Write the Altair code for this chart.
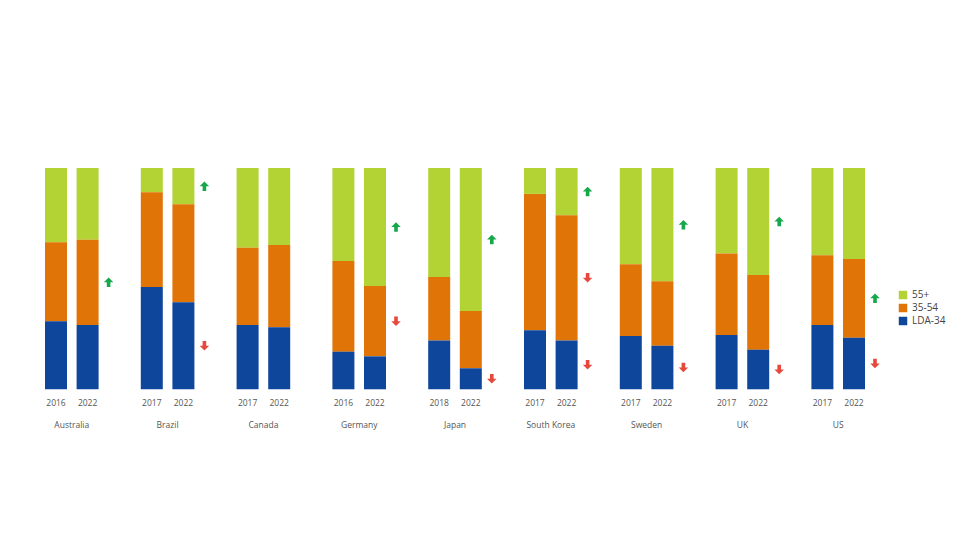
import altair as alt
import pandas as pd

countries = ["Australia", "Brazil", "Canada", "Germany", "Japan",
             "South Korea", "Sweden", "UK", "US"]
first_years = ["2016", "2017", "2017", "2016", "2018", "2017", "2017", "2017", "2017"]
last_year = "2022"
segments = ["55+", "35-54", "LDA-34"]
seg_colors = ["#b3d233", "#e17406", "#0e469c"]

# shares (%) for the first survey year
s55_first = [33.5, 11.0, 36.0, 42.0, 49.2, 11.7, 43.5, 38.6, 39.4]
s35_first = [35.8, 42.8, 34.9, 41.0, 28.8, 61.6, 32.4, 36.9, 31.5]
slda_first = [30.7, 46.2, 29.1, 17.0, 22.0, 26.7, 24.1, 24.5, 29.1]
# shares (%) for 2022
s55_last = [32.4, 16.4, 34.8, 53.3, 64.6, 21.3, 51.2, 48.3, 41.1]
s35_last = [38.5, 44.3, 37.2, 31.8, 25.9, 56.6, 29.1, 33.8, 35.6]
slda_last = [29.1, 39.3, 28.0, 14.9, 9.5, 22.1, 19.7, 17.9, 23.3]

# change arrows drawn next to the 2022 bar
arrow_country = ["Australia", "Brazil", "Brazil", "Germany", "Germany",
                 "Japan", "Japan", "South Korea", "South Korea", "South Korea",
                 "Sweden", "Sweden", "UK", "UK", "US", "US"]
arrow_segment = ["35-54", "55+", "LDA-34", "55+", "35-54",
                 "55+", "LDA-34", "55+", "35-54", "LDA-34",
                 "55+", "LDA-34", "55+", "LDA-34", "35-54", "LDA-34"]
arrow_dir = ["up", "up", "down", "up", "down",
             "up", "down", "up", "down", "down",
             "up", "down", "up", "down", "up", "down"]

order_of = {"LDA-34": 0, "35-54": 1, "55+": 2}

rows = []
for i, c in enumerate(countries):
    for yr, vals in ((first_years[i], (s55_first[i], s35_first[i], slda_first[i])),
                     (last_year, (s55_last[i], s35_last[i], slda_last[i]))):
        for seg, v in zip(segments, vals):
            rows.append({"kind": "bar", "country": c, "year": yr, "segment": seg,
                         "value": v, "ord": order_of[seg], "dir": ""})

for c, seg, d in zip(arrow_country, arrow_segment, arrow_dir):
    i = countries.index(c)
    lda, s35, s55 = slda_last[i], s35_last[i], s55_last[i]
    lo = {"LDA-34": 0, "35-54": lda, "55+": lda + s35}[seg]
    hi = {"LDA-34": lda, "35-54": lda + s35, "55+": 100}[seg]
    rows.append({"kind": "arrow", "country": c, "year": last_year, "segment": seg,
                 "value": (lo + hi) / 2, "ord": order_of[seg], "dir": d})

df = pd.DataFrame(rows)

up_path = "M0,-1L1,0L0.38,0L0.38,1L-0.38,1L-0.38,0L-1,0Z"
down_path = "M0,1L1,0L0.38,0L0.38,-1L-0.38,-1L-0.38,0L-1,0Z"

yscale = alt.Scale(domain=[0, 100])

bars = alt.Chart().transform_filter(alt.datum.kind == "bar").mark_bar(
    stroke=None
).encode(
    x=alt.X("year:N", title=None,
            scale=alt.Scale(paddingInner=0.304, paddingOuter=0),
            axis=alt.Axis(labelAngle=0, ticks=False, domain=False,
                          labelPadding=9, labelFontSize=8.5,
                          labelFont="Open Sans", labelColor="#555555")),
    y=alt.Y("value:Q", stack="zero", scale=yscale, axis=None),
    color=alt.Color("segment:N",
                    scale=alt.Scale(domain=segments, range=seg_colors),
                    legend=alt.Legend(title=None, orient="none",
                                      legendX=853, legendY=122,
                                      symbolType="square", symbolSize=72,
                                      symbolStrokeWidth=0, labelFontSize=10,
                                      labelFont="Open Sans", labelColor="#444444",
                                      labelOffset=4, rowPadding=3, padding=0)),
    order=alt.Order("ord:Q", sort="ascending"),
)

up = alt.Chart().transform_filter(
    (alt.datum.kind == "arrow") & (alt.datum.dir == "up")
).mark_point(shape=up_path, filled=True, size=90, opacity=1,
             color="#17a84b").encode(
    x=alt.X("year:N"),
    xOffset=alt.value(32),
    y=alt.Y("value:Q", scale=yscale),
)

down = alt.Chart().transform_filter(
    (alt.datum.kind == "arrow") & (alt.datum.dir == "down")
).mark_point(shape=down_path, filled=True, size=90, opacity=1,
             color="#e8483b").encode(
    x=alt.X("year:N"),
    xOffset=alt.value(32),
    y=alt.Y("value:Q", scale=yscale),
)

chart = alt.layer(bars, up, down, data=df).properties(
    width=53.6, height=221.3
).facet(
    column=alt.Column("country:N", sort=countries,
                      header=alt.Header(title=None, labelOrient="bottom",
                                        labelFont="Open Sans", labelFontSize=8.5,
                                        labelColor="#555555", labelPadding=31)),
    spacing=41.8,
    bounds="flush",
).resolve_scale(x="independent").properties(
    padding={"left": 45, "top": 168, "right": 5, "bottom": 5},
    background="white",
).configure_view(stroke=None)

chart.save("out.html", embed_options={"renderer": "svg", "actions": False})
